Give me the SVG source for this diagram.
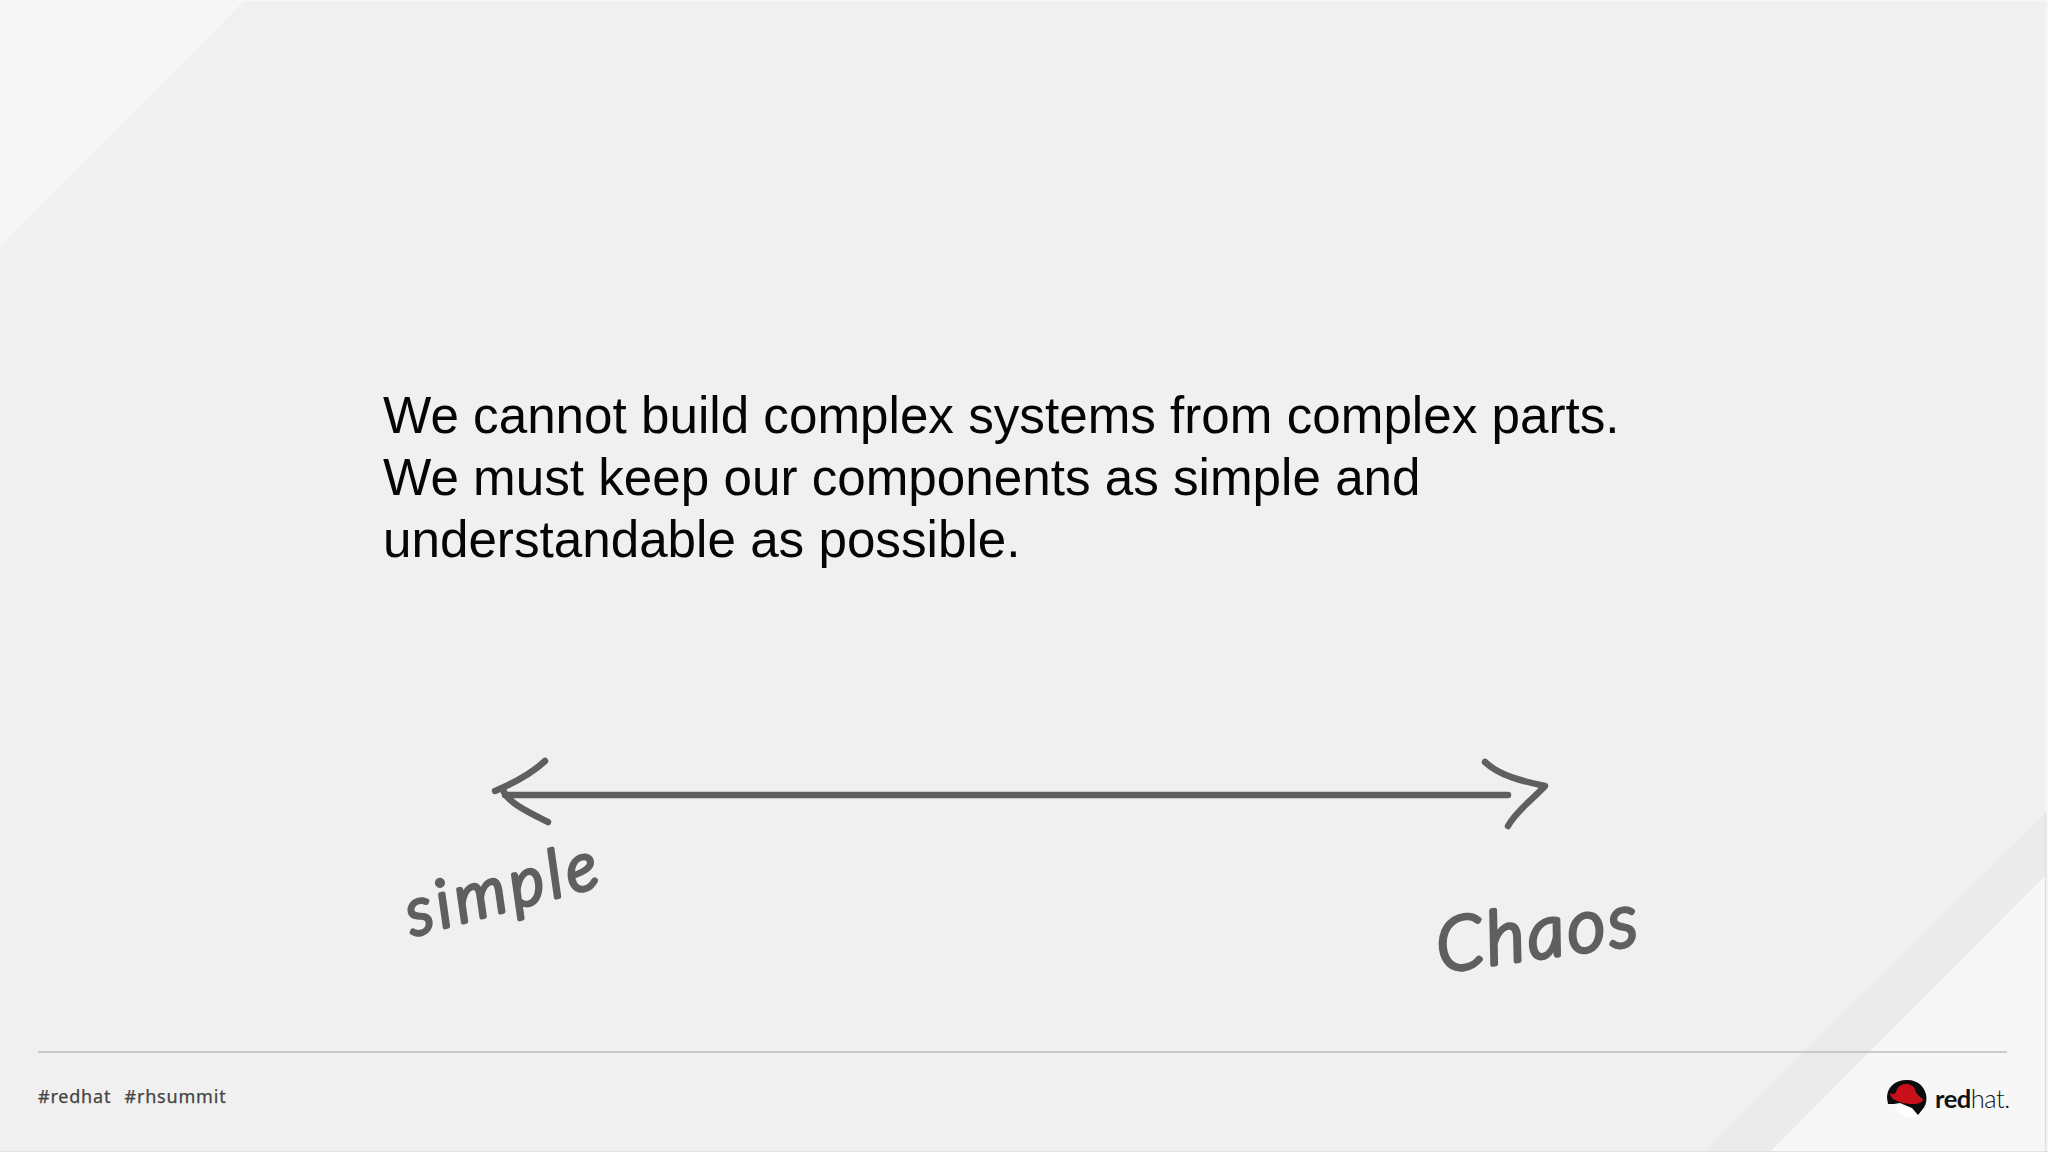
<svg xmlns="http://www.w3.org/2000/svg" width="2048" height="1152" viewBox="0 0 2048 1152">
<style>
.quote{font-family:"Liberation Sans",Arial,sans-serif;font-size:51.2px;fill:#050505}
.ink{fill:none;stroke:#5f5f5f;stroke-width:6.5;stroke-linecap:round;stroke-linejoin:round}
.hand{font-family:"Lato","Noto Sans",sans-serif;font-style:italic;font-weight:300;fill:#5f5f5f;stroke:#5f5f5f;stroke-width:4.4;stroke-linejoin:round}
.tag{font-family:"Noto Sans",sans-serif;font-size:18px;font-weight:400;fill:#444;stroke:#444;stroke-width:.25;letter-spacing:.8px}
</style>
<g id="background">
<rect width="2048" height="1152" fill="#f0f0f0"/>
<path d="M0 0H245L0 247Z" fill="#f7f7f7"/>
<path d="M2046 812V875L1770 1152H1703Z" fill="#ebebeb"/>
<path d="M2046 875V1152H1770Z" fill="#f7f7f7"/>
<rect x="245" y="0" width="1803" height="1.5" fill="#f7f7f7"/>
<rect x="2046" y="0" width="2" height="1152" fill="#f7f7f7"/>
<rect x="2045" y="812" width="1.2" height="340" fill="#dcdcdc"/>
<rect x="0" y="1151" width="2048" height="1" fill="#e2e2e2"/>
<rect x="38" y="1051.2" width="1969" height="1.5" fill="#bdbdbd"/>
</g>
<g id="quote">
<text class="quote" x="383" y="433">We cannot build complex systems from complex parts.</text>
<text class="quote" x="383" y="495">We must keep our components as simple and</text>
<text class="quote" x="383" y="557">understandable as possible.</text>
</g>
<g id="connectors">
<path class="ink" d="M505 795H1508" stroke-width="7.500"/>
<path class="ink" d="M545 761C532 773 514 783 495 791" stroke-width="10"/>
<path class="ink" d="M503 790C508 803 530 813 548 822"/>
<path class="ink" d="M1485 762C1500 776 1522 781 1545 786C1532 800 1516 811 1508 826"/>
</g>
<g id="simple-label">
<text class="hand" transform="translate(412 936) rotate(-15)" font-size="66" textLength="196" lengthAdjust="spacing">simple</text>
</g>
<g id="chaos-label">
<text class="hand" transform="translate(1440 972) rotate(-8)" font-size="74" textLength="202" lengthAdjust="spacing">Chaos</text>
</g>
<g id="footer">
<text class="tag" x="38" y="1103">#redhat</text>
<text class="tag" x="124.500" y="1103">#rhsummit</text>
</g>
<g id="logo">
<path d="M1887 1098C1887 1087 1895 1080 1907 1080C1919 1080 1926 1088 1926.500 1098C1926.500 1103 1925 1107 1922 1110L1918 1115L1912 1108L1900 1103L1894 1104L1888 1104Z" fill="#0c0c0c"/>
<path d="M1890 1093C1893 1095 1895 1094 1896 1092C1897 1088 1900 1084.500 1905 1084C1910 1083.500 1914 1086 1915 1090C1916 1094 1920 1097 1923 1099C1923 1102 1919 1104 1913 1104C1906 1104 1898 1102 1893 1099C1891 1097 1890 1095 1890 1093Z" fill="#c9101a"/>
<path d="M1894 1106L1900 1104.500L1912 1109.500L1917 1116C1912 1119 1900 1118 1894 1106Z" fill="#fff"/>
<text x="1935" y="1108" font-family="Lato,'Noto Sans',sans-serif" font-size="25.500" fill="#111" letter-spacing="-.5"><tspan font-weight="700">red</tspan><tspan font-weight="300">hat.</tspan></text>
</g>
</svg>
